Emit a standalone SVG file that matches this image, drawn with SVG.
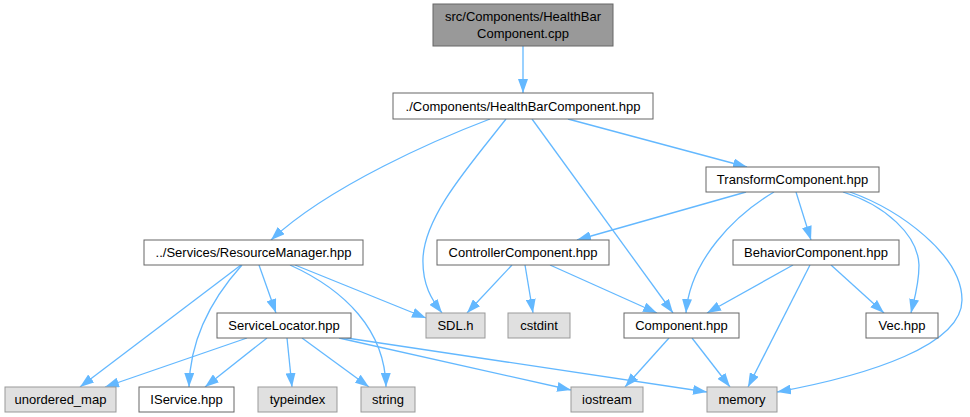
<svg xmlns="http://www.w3.org/2000/svg" width="970" height="417" viewBox="0 0 970 417">
<style>
.n rect{stroke:#666;stroke-width:1;fill:#fff}
.n.g rect{stroke:#999;fill:#e0e0e0}
.n.m rect{stroke:#666;fill:#999}
.n text{font-family:"Liberation Sans",Arial,sans-serif;font-size:13px;fill:#000;text-anchor:middle}
#edges path{fill:none;stroke:#63b8ff;stroke-width:1.3;marker-end:url(#arr)}
</style>
<defs>
<marker id="arr" markerWidth="14" markerHeight="10" refX="14" refY="5" orient="auto" markerUnits="userSpaceOnUse">
<path d="M0,0 L14,5 L0,10 z" fill="#63b8ff"/>
</marker>
</defs>
<rect width="970" height="417" fill="#fff"/>
<g id="edges">
<path d="M523,46 L523,93"/>
<path d="M490,119 C440,138 330,185 271,240"/>
<path d="M506,119 C470,165 425,215 423,258 C422,285 432,300 442,313"/>
<path d="M532,119 L673,313"/>
<path d="M568,119 L747,167"/>
<path d="M746,192 L577,240"/>
<path d="M774,192 C735,215 690,260 686,313"/>
<path d="M796,192 L811,240"/>
<path d="M843,192 C885,205 918,235 919,265 C919,285 914,300 911,313"/>
<path d="M850,192 C900,210 962,255 962,300 C962,345 870,375 777,392"/>
<path d="M512,265 L467,313"/>
<path d="M525,265 L533,313"/>
<path d="M550,265 L657,313"/>
<path d="M793,265 L707,313"/>
<path d="M810,265 L748,387"/>
<path d="M831,265 L884,313"/>
<path d="M669,338 L625,387"/>
<path d="M692,338 L730,387"/>
<path d="M241,265 L80,387"/>
<path d="M242,265 C215,295 190,335 189,387"/>
<path d="M259,265 L276,313"/>
<path d="M290,265 C345,290 385,330 386,387"/>
<path d="M295,265 L426,318"/>
<path d="M247,338 L105,387"/>
<path d="M267,338 L205,387"/>
<path d="M287,338 L292,387"/>
<path d="M302,338 L369,387"/>
<path d="M339,338 L571,390"/>
<path d="M340,337 L707,392"/>
</g>
<g id="n_cpp" class="n m"><rect x="433" y="4" width="180" height="42"/><text x="523" y="21">src/Components/HealthBar</text><text x="523" y="38">Component.cpp</text></g>
<g id="n_hbc" class="n"><rect x="393" y="93" width="260" height="26"/><text x="523" y="110.5">./Components/HealthBarComponent.hpp</text></g>
<g id="n_tc" class="n"><rect x="706" y="167" width="173" height="25"/><text x="792.5" y="184">TransformComponent.hpp</text></g>
<g id="n_rm" class="n"><rect x="144" y="240" width="219" height="25"/><text x="253.5" y="257">../Services/ResourceManager.hpp</text></g>
<g id="n_cc" class="n"><rect x="437" y="240" width="172" height="25"/><text x="523" y="257">ControllerComponent.hpp</text></g>
<g id="n_bc" class="n"><rect x="733" y="240" width="166" height="25"/><text x="816" y="257">BehaviorComponent.hpp</text></g>
<g id="n_sl" class="n"><rect x="217" y="313" width="134" height="25"/><text x="284" y="330">ServiceLocator.hpp</text></g>
<g id="n_sdl" class="n g"><rect x="426" y="313" width="59" height="25"/><text x="455.5" y="330">SDL.h</text></g>
<g id="n_cstdint" class="n g"><rect x="508" y="313" width="62" height="25"/><text x="539" y="330">cstdint</text></g>
<g id="n_comp" class="n"><rect x="624" y="313" width="115" height="25"/><text x="681.5" y="330">Component.hpp</text></g>
<g id="n_vec" class="n"><rect x="866" y="313" width="72" height="25"/><text x="902" y="330">Vec.hpp</text></g>
<g id="n_umap" class="n g"><rect x="5" y="387" width="111" height="25"/><text x="60.5" y="404">unordered_map</text></g>
<g id="n_iservice" class="n"><rect x="139" y="387" width="95" height="25"/><text x="186.5" y="404">IService.hpp</text></g>
<g id="n_typeindex" class="n g"><rect x="258" y="387" width="79" height="25"/><text x="297.5" y="404">typeindex</text></g>
<g id="n_string" class="n g"><rect x="361" y="387" width="54" height="25"/><text x="388" y="404">string</text></g>
<g id="n_iostream" class="n g"><rect x="571" y="387" width="72" height="25"/><text x="607" y="404">iostream</text></g>
<g id="n_memory" class="n g"><rect x="707" y="387" width="70" height="25"/><text x="742" y="404">memory</text></g>
</svg>
